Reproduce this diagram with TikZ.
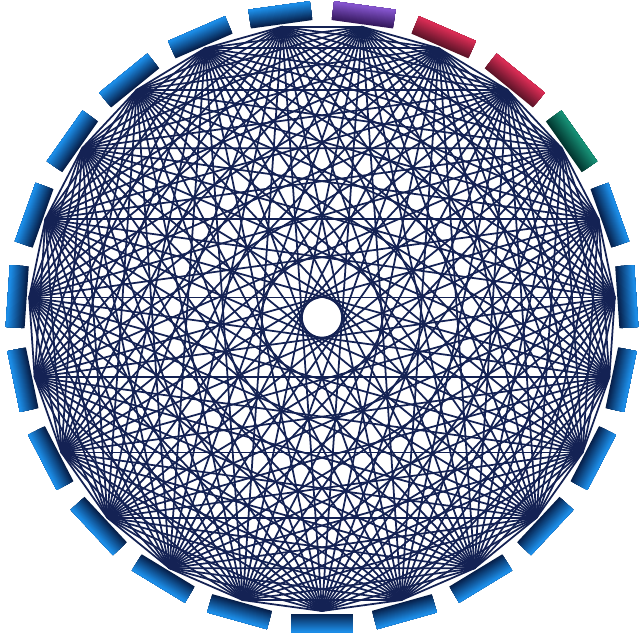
\documentclass[tikz,border=0pt]{standalone}
\definecolor{chordcol}{RGB}{20,34,84}
\definecolor{bO}{RGB}{28,140,230}
\definecolor{bI}{RGB}{6,30,72}
\definecolor{pO}{RGB}{132,84,204}
\definecolor{pI}{RGB}{52,24,92}
\definecolor{rO}{RGB}{216,44,84}
\definecolor{rI}{RGB}{92,20,40}
\definecolor{gO}{RGB}{22,142,116}
\definecolor{gI}{RGB}{2,52,46}
\tikzset{chord/.style={draw=chordcol,line width=1.75pt}}
\begin{document}
\begin{tikzpicture}[x=1pt,y=1pt]
\useasboundingbox (-322,-319.5) rectangle (318,317.5);
% vertices
\foreach \k in {0,...,22}{
  \coordinate (v\k) at ({270+\k*360/23}:293.5);
}
% chords of the complete graph
\foreach \i in {0,...,21}{
  \pgfmathtruncatemacro\s{\i+1}
  \foreach \j in {\s,...,22}{
    \draw[chord] (v\i) -- (v\j);
  }
}
% outer segments with radial gradient
\foreach \k in {0,...,22}{
  \edef\oc{\ifnum\k=8 gO\else\ifnum\k=9 rO\else\ifnum\k=10 rO\else\ifnum\k=11 pO\else bO\fi\fi\fi\fi}
  \edef\ic{\ifnum\k=8 gI\else\ifnum\k=9 rI\else\ifnum\k=10 rI\else\ifnum\k=11 pI\else bI\fi\fi\fi\fi}
  \pgfmathsetmacro\ang{270+\k*360/23}
  \begin{scope}[rotate=\ang]
    \foreach \i in {0,...,19}{
      \pgfmathsetmacro\p{min(100,100*(\i/18))}
      \pgfmathsetmacro\ra{296+\i*0.95}
      \fill[\oc!\p!\ic] (\ra,-31) rectangle (315,31);
    }
  \end{scope}
}
\end{tikzpicture}
\end{document}
